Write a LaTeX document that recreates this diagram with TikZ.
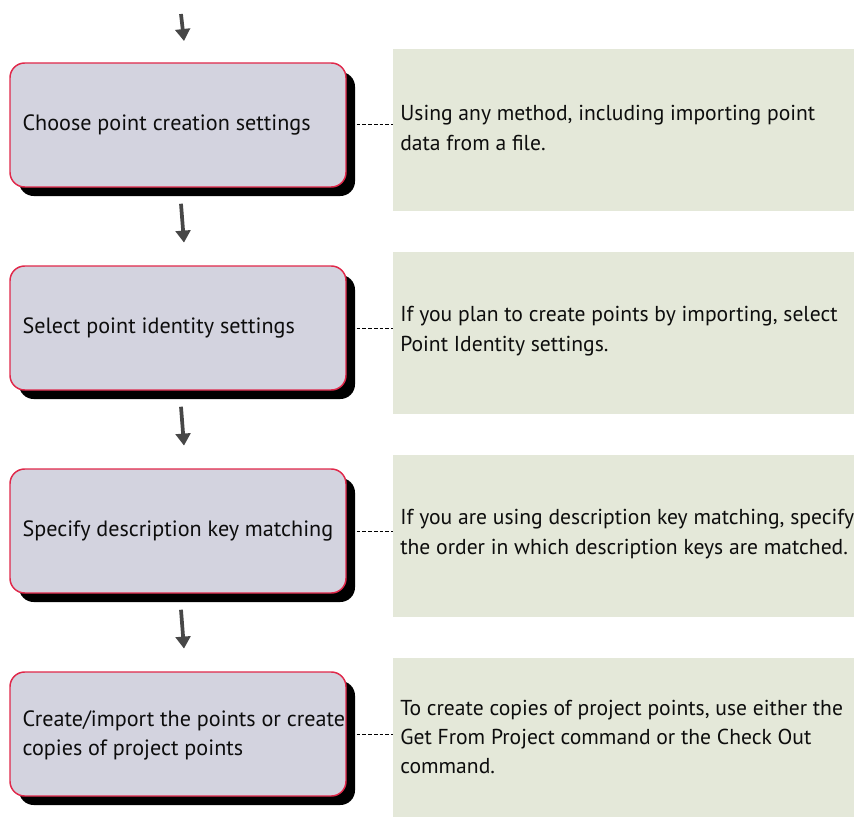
\documentclass[tikz,border=0pt]{standalone}
\usepackage{fontspec}
\setmainfont{PT Sans}
\usetikzlibrary{shadows,arrows.meta}
\definecolor{boxfill}{HTML}{D3D3DF}
\definecolor{boxedge}{HTML}{E0284A}
\definecolor{notefill}{HTML}{E4E8D9}
\definecolor{arrowgray}{HTML}{474747}
\tikzset{
  stepbox/.style={draw=boxedge, line width=1.1pt, fill=boxfill, rounded corners=11pt,
    minimum width=252pt, minimum height=93pt, inner sep=0pt,
    drop shadow={shadow xshift=6.75pt, shadow yshift=-6.75pt, fill=black, opacity=1}},
  steptext/.style={anchor=west, inner sep=0pt, align=left,
    font=\fontsize{16.6pt}{21.7pt}\selectfont, text=black!95},
  notebox/.style={fill=notefill, minimum width=345.75pt, minimum height=121.5pt, inner sep=0pt},
  notetext/.style={anchor=west, inner sep=0pt, align=left,
    font=\fontsize{16.2pt}{22pt}\selectfont, text=black!95},
  conn/.style={line width=0.75pt, dash pattern=on 2.8pt off 1.5pt},
  flowarrow/.style={arrowgray, line width=2.8pt, -{Triangle[length=9pt,width=11pt]}},
}
\begin{document}
\begin{tikzpicture}[x=0.75pt,y=-0.75pt]
\useasboundingbox (0,0) rectangle (854,817);
% left step boxes
\node[stepbox] (s1) at (178,125) {};
\node[stepbox] (s2) at (178,328) {};
\node[stepbox] (s3) at (178,531) {};
\node[stepbox] (s4) at (178,734) {};
\node[steptext] (l1) at ([xshift=9.75pt]s1.west) {Choose point creation settings};
\node[steptext] (l2) at ([xshift=9.75pt]s2.west) {Select point identity settings};
\node[steptext] (l3) at ([xshift=9.75pt]s3.west) {Specify description key matching};
\node[steptext] (l4) at ([xshift=9.75pt,yshift=-1pt]s4.west) {Create/import the points or create\\copies of project points};
% notes
\node[notebox] (n1) at (623.5,130) {};
\node[notebox] (n2) at (623.5,333) {};
\node[notebox] (n3) at (623.5,536) {};
\node[notebox] (n4) at (623.5,739) {};
\node[notetext] (t1) at ([xshift=5.5pt,yshift=1.5pt]n1.west) {Using any method, including importing point\\data from a file.};
\node[notetext] (t2) at ([xshift=5.5pt,yshift=1.5pt]n2.west) {If you plan to create points by importing, select\\Point Identity settings.};
\node[notetext] (t3) at ([xshift=5.5pt,yshift=1.5pt]n3.west) {If you are using description key matching, specify\\the order in which description keys are matched.};
\node[notetext] (t4) at ([xshift=5.5pt,yshift=1.5pt]n4.west) {To create copies of project points, use either the\\Get From Project command or the Check Out\\command.};
% dashed connectors
\foreach \i in {1,...,4}{
  \coordinate (c\i) at ([xshift=7.5pt]s\i.east);
  \draw[conn] (c\i) -- (c\i -| n\i.west);
}
% flow arrows
\coordinate (a0s) at (181,14);
\coordinate (a0e) at (184,41);
\draw[flowarrow] (a0s) -- (a0e);
\foreach \i/\j in {1/2,2/3,3/4}{
  \draw[flowarrow] ([xshift=2.25pt,yshift=-12pt]s\i.south) -- ([xshift=4.5pt,yshift=17pt]s\j.north);
}
\end{tikzpicture}
\end{document}
